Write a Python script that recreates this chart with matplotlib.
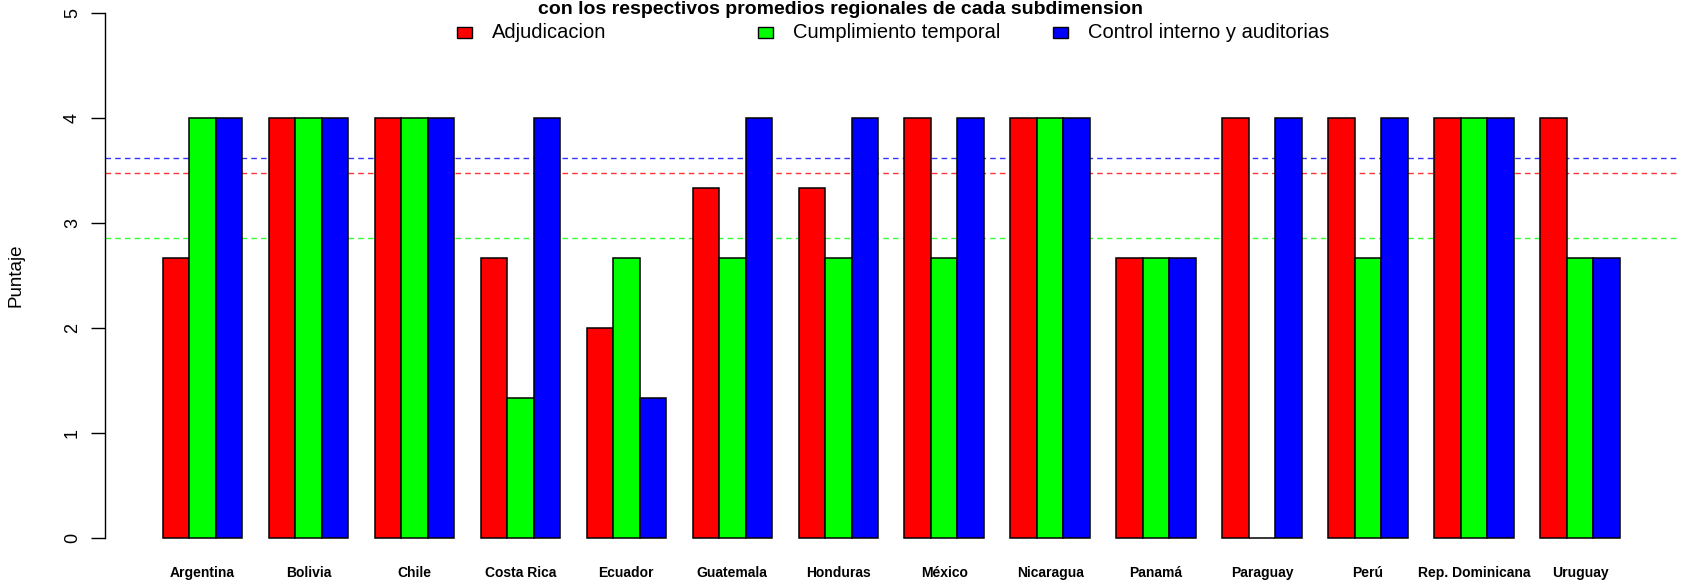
import numpy as np
import matplotlib
matplotlib.use("Agg")
import matplotlib.pyplot as plt
from matplotlib.patches import Rectangle

plt.rcParams['font.family'] = ['Liberation Sans', 'DejaVu Sans']

# datos
paises = ["Argentina", "Bolivia", "Chile", "Costa Rica", "Ecuador", "Guatemala",
          "Honduras", "México", "Nicaragua", "Panamá", "Paraguay", "Perú",
          "Rep. Dominicana", "Uruguay"]
adjudicacion = [2.67, 4, 4, 2.67, 2, 3.33, 3.33, 4, 4, 2.67, 4, 4, 4, 4]
cumplimiento = [4, 4, 4, 1.33, 2.67, 2.67, 2.67, 2.67, 4, 2.67, 0, 2.67, 4, 2.67]
control = [4, 4, 4, 4, 1.33, 4, 4, 4, 4, 2.67, 4, 4, 4, 2.67]

series = ["Adjudicacion", "Cumplimiento temporal", "Control interno y auditorias"]
colores = ["#ff0000", "#00ff00", "#0000ff"]
titulo = "con los respectivos promedios regionales de cada subdimension"

datos = [adjudicacion, cumplimiento, control]

fig = plt.figure(figsize=(16.88, 5.8), dpi=100)
# ejes como en barplot de R: grupos de 3 barras, espacio de 1
ax = fig.add_axes([104.5 / 1688, 21 / 580, (1678 - 104.5) / 1688, 567 / 580])

n = len(paises)
inicio = np.arange(n) * 4 + 1  # borde izquierdo de cada grupo
for k, (vals, col) in enumerate(zip(datos, colores)):
    ax.bar(inicio + k, vals, width=1, align='edge', color=col,
           edgecolor='black', linewidth=1.1, zorder=3)
    ax.axhline(np.mean(vals), color=col, linestyle=(0, (4, 3)),
               linewidth=1.0, alpha=0.8, zorder=1)

xmin, xmax = 1, n * 4
pad = 0.04 * (xmax - xmin)
ax.set_xlim(xmin - pad, xmax + pad)
ax.set_ylim(-0.2, 5.2)

for s in ['top', 'right', 'bottom']:
    ax.spines[s].set_visible(False)
ax.spines['left'].set_bounds(0, 5)
ax.spines['left'].set_linewidth(1.0)

ax.set_yticks(range(6))
ax.set_yticklabels([str(i) for i in range(6)], rotation=90, va='center', fontsize=13)
ax.tick_params(axis='y', length=10, width=1, pad=7)
ax.set_xticks(inicio + 1.5)
ax.set_xticklabels(paises, fontsize=10, fontweight='bold')
ax.tick_params(axis='x', length=0, pad=5)
ax.set_ylabel("Puntaje", fontsize=13.5, labelpad=28)

# leyenda horizontal como en R
for nombre, col, x0 in zip(series, colores, [457, 758, 1053]):
    fig.patches.append(Rectangle((x0 / 1688, 1 - 38 / 580), 15 / 1688, 11 / 580,
                                 transform=fig.transFigure, facecolor=col,
                                 edgecolor='black', linewidth=1.0))
    fig.text((x0 + 35) / 1688, 1 - 32.5 / 580, nombre, fontsize=14.5, va='center')

fig.text(840 / 1688, 1 - 1 / 580, titulo, ha='center', va='top',
         fontsize=14, fontweight='bold')

fig.savefig("out.png", dpi=100)
